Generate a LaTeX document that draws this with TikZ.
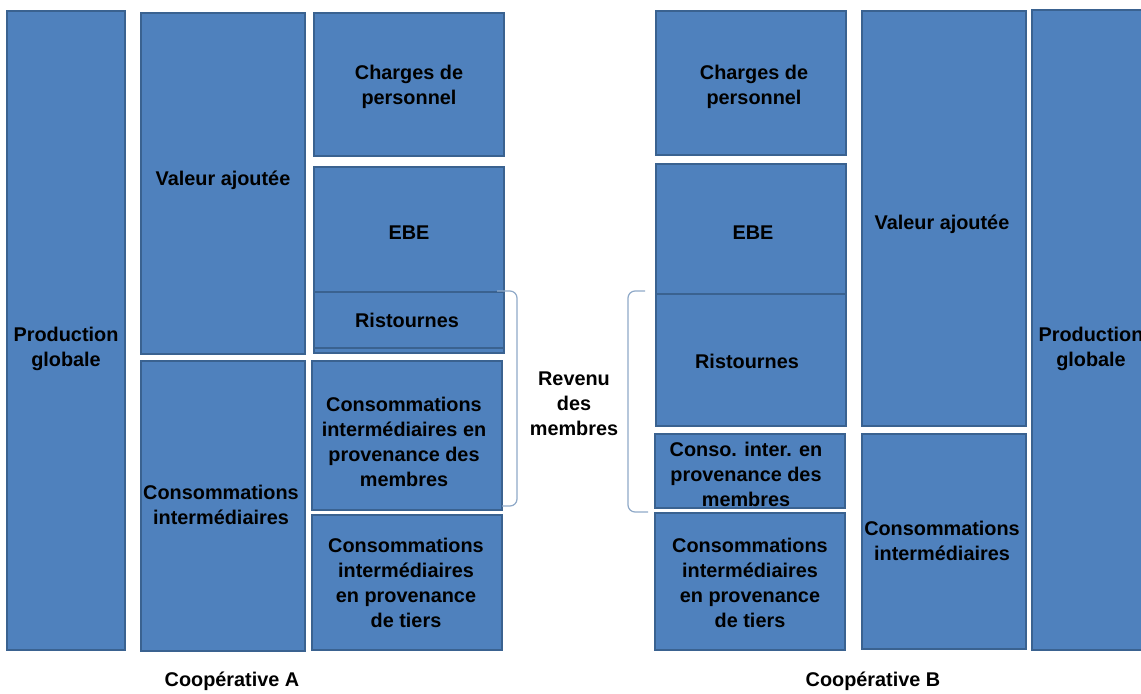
\documentclass[tikz,border=0pt]{standalone}
\usepackage{fontspec}
\setmainfont{Liberation Sans}
\usepackage{tikz}
\definecolor{bleu}{HTML}{4F81BD}
\definecolor{bleufonce}{HTML}{3A6290}
\definecolor{gris}{HTML}{8FA9C8}
\tikzset{
  bloc/.style={fill=bleu, draw=bleufonce, line width=1.2pt},
  etiq/.style={align=center, inner sep=0pt, font=\fontsize{11.3}{14.2}\selectfont\bfseries},
  accolade/.style={draw=gris, line width=0.7pt, rounded corners=4pt}
}

\begin{document}
\begin{tikzpicture}[x=0.02cm, y=-0.02cm]
			%%%%% START %%%%%
			\useasboundingbox (0, 0) rectangle (1141, 693);
			\clip (0, 0) rectangle (1141, 693);
			
			% Cooperative A
			\draw[bloc] (7, 11) rectangle (125, 650);
			\node[etiq] (prodA) at (66, 349) {Production\\globale};
			
			\draw[bloc] (141, 13) rectangle (305, 354);
			\node[etiq] (vaA) at (223, 180) {Valeur ajoutée};
			\draw[bloc] (141, 361) rectangle (305, 651);
			\node[etiq] (ciA) at (221, 505) {Consommations\\intermédiaires};
			
			\draw[bloc] (314, 13) rectangle (504, 156);
			\node[etiq] (chargesA) at (409, 87) {Charges de\\personnel};
			\draw[bloc] (314, 167) rectangle (504, 292);
			\node[etiq] (ebeA) at (409, 233) {EBE};
			\draw[bloc] (314, 292) rectangle (504, 353);
			\draw[draw=bleufonce, line width=1.2pt] (314, 348) -- (504, 348);
			\node[etiq] (ristA) at (407, 320) {Ristournes};
			\draw[bloc] (312, 361) rectangle (502, 510);
			\node[etiq] (cimA) at (404, 442) {Consommations\\intermédiaires en\\provenance des\\membres};
			\draw[bloc] (312, 515) rectangle (502, 650);
			\node[etiq] (citA) at (406, 583) {Consommations\\intermédiaires\\en provenance\\de tiers};
			
			\node[etiq] (coopA) at (232, 681) {Coopérative A};
			
			% revenu des membres
			\draw[accolade] (497, 291) -- (517, 291) -- (517, 506) -- (502, 506);
			\draw[accolade] (645, 291) -- (628, 291) -- (628, 512) -- (648, 512);
			\node[etiq] (revenu) at (574, 404) {Revenu\\des\\membres};
			
			% Cooperative B
			\draw[bloc] (656, 11) rectangle (846, 155);
			\node[etiq] (chargesB) at (754, 87) {Charges de\\personnel};
			\draw[bloc] (656, 164) rectangle (846, 294);
			\node[etiq] (ebeB) at (753, 233) {EBE};
			\draw[bloc] (656, 294) rectangle (846, 426);
			\node[etiq] (ristB) at (747, 361) {Ristournes};
			\draw[bloc] (655, 434) rectangle (845, 508);
			\node[etiq] (cimB) at (746, 474) {Conso. inter. en\\provenance des\\membres};
			\draw[bloc] (655, 513) rectangle (845, 650);
			\node[etiq] (citB) at (750, 583) {Consommations\\intermédiaires\\en provenance\\de tiers};
			
			\draw[bloc] (862, 11) rectangle (1026, 426);
			\node[etiq] (vaB) at (942, 224) {Valeur ajoutée};
			\draw[bloc] (862, 434) rectangle (1026, 649);
			\node[etiq] (ciB) at (942, 541) {Consommations\\intermédiaires};
			
			\draw[bloc] (1032, 10) rectangle (1150, 650);
			\node[etiq] (prodB) at (1091, 349) {Production\\globale};
			
			\node[etiq] (coopB) at (873, 681) {Coopérative B};
			%%%%% END %%%%%
\end{tikzpicture}
\end{document}
